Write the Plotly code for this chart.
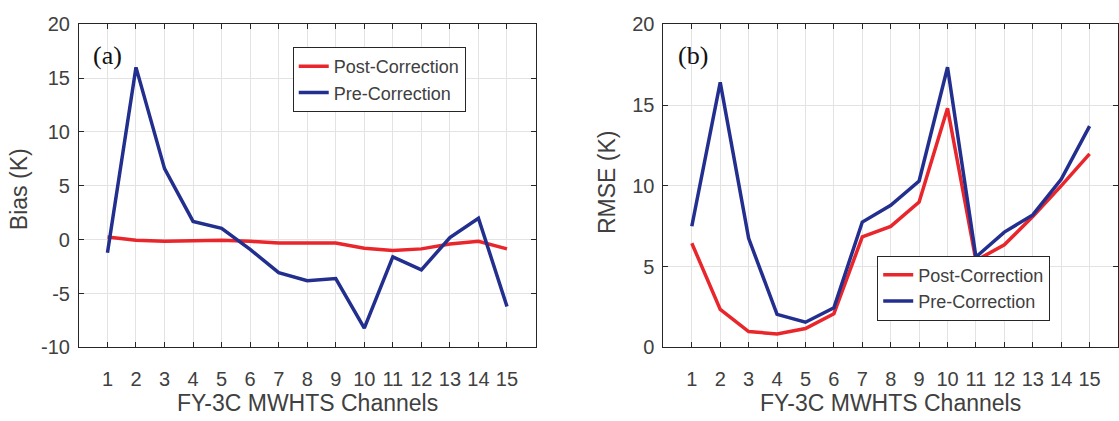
import plotly.graph_objects as go

channels = list(range(1, 16))
bias_post = [0.25, -0.05, -0.15, -0.1, -0.05, -0.15, -0.3, -0.3, -0.3, -0.8, -1.0, -0.85, -0.4, -0.15, -0.85]
bias_pre = [-1.2, 16.0, 6.6, 1.7, 1.05, -0.9, -3.05, -3.8, -3.6, -8.2, -1.6, -2.8, 0.2, 2.0, -6.2]
rmse_post = [6.45, 2.35, 0.98, 0.84, 1.17, 2.09, 6.84, 7.49, 9.0, 14.8, 5.38, 6.35, 8.1, 10.0, 11.98]
rmse_pre = [7.5, 16.4, 6.75, 2.05, 1.56, 2.45, 7.76, 8.8, 10.3, 17.34, 5.6, 7.14, 8.2, 10.4, 13.7]
bias_ticks = [-10, -5, 0, 5, 10, 15, 20]
bias_tick_labels = ["-10", "-5", "0", "5", "10", "15", "20"]
rmse_ticks = [0, 5, 10, 15, 20]
rmse_tick_labels = ["0", "5", "10", "15", "20"]

RED = "#e8262b"
BLUE = "#232f8f"
TXT = "#404040"
W, H = 1119, 421

fig = go.Figure()
fig.add_trace(go.Scatter(x=channels, y=bias_post, mode="lines", name="Post-Correction",
                         line=dict(color=RED, width=3.5), xaxis="x", yaxis="y", legend="legend"))
fig.add_trace(go.Scatter(x=channels, y=bias_pre, mode="lines", name="Pre-Correction",
                         line=dict(color=BLUE, width=3.5), xaxis="x", yaxis="y", legend="legend"))
fig.add_trace(go.Scatter(x=channels, y=rmse_post, mode="lines", name="Post-Correction",
                         line=dict(color=RED, width=3.5), xaxis="x2", yaxis="y2", legend="legend2"))
fig.add_trace(go.Scatter(x=channels, y=rmse_pre, mode="lines", name="Pre-Correction",
                         line=dict(color=BLUE, width=3.5), xaxis="x2", yaxis="y2", legend="legend2"))

xd1 = [79 / W, 536 / W]
xd2 = [664 / W, 1.0]
yd = [1 - 355 / H, 1 - 14 / H]

FONT = "Liberation Sans, Arial"
common_x = dict(range=[0, 16], tickvals=channels, ticks="inside", ticklen=5, tickcolor="#262626",
                showline=True, linecolor="#262626", linewidth=1, mirror="ticks",
                showgrid=True, gridcolor="#e3e3e3", gridwidth=1, zeroline=False,
                tickfont=dict(family=FONT, size=20, color=TXT),
                ticklabelstandoff=14)
common_y = dict(ticks="inside", ticklen=5, tickcolor="#262626",
                showline=True, linecolor="#262626", linewidth=1, mirror="ticks",
                showgrid=True, gridcolor="#e3e3e3", gridwidth=1, zeroline=False,
                tickfont=dict(family=FONT, size=20, color=TXT),
                ticklabelstandoff=4)

legend_common = dict(xanchor="left", yanchor="top", bgcolor="white", bordercolor="#262626",
                     borderwidth=1, font=dict(family=FONT, size=18, color=TXT))

fig.update_layout(
    width=W, height=H,
    margin=dict(l=0, r=0, t=0, b=0),
    paper_bgcolor="white", plot_bgcolor="white",
    xaxis=dict(domain=xd1, anchor="y", **common_x),
    yaxis=dict(domain=yd, anchor="x", range=[-10, 20], tickvals=bias_ticks,
               ticktext=bias_tick_labels, **common_y),
    xaxis2=dict(domain=xd2, anchor="y2", **common_x),
    yaxis2=dict(domain=yd, anchor="x2", range=[0, 20], tickvals=rmse_ticks,
                ticktext=rmse_tick_labels, **common_y),
    legend=dict(x=293 / W, y=1 - 38 / H, **legend_common),
    legend2=dict(x=878 / W, y=1 - 258 / H, **legend_common),
    showlegend=True,
)

xtitle_font = dict(family=FONT, size=23, color=TXT)
ytitle_font = dict(family=FONT, size=23, color=TXT)
ymid = (yd[0] + yd[1]) / 2
for dom in (xd1, xd2):
    fig.add_annotation(text="FY-3C MWHTS Channels", xref="paper", yref="paper",
                       x=(dom[0] + dom[1]) / 2, y=1 - 414 / H, showarrow=False,
                       xanchor="center", yanchor="middle", font=xtitle_font)
fig.add_annotation(text="Bias (K)", xref="paper", yref="paper", x=19 / W, y=1 - 188 / H,
                   showarrow=False, textangle=-90, xanchor="center", yanchor="middle", font=ytitle_font)
fig.add_annotation(text="RMSE (K)", xref="paper", yref="paper", x=607 / W, y=1 - 180 / H,
                   showarrow=False, textangle=-90, xanchor="center", yanchor="middle", font=ytitle_font)

panel_font = dict(family="Liberation Serif, Times New Roman", size=26, color="#111111")
fig.add_annotation(text="(a)", xref="paper", yref="paper", x=91 / W, y=1 - 47 / H,
                   showarrow=False, xanchor="left", yanchor="middle", font=panel_font)
fig.add_annotation(text="(b)", xref="paper", yref="paper", x=677 / W, y=1 - 47 / H,
                   showarrow=False, xanchor="left", yanchor="middle", font=panel_font)

fig.write_html("out.html")
